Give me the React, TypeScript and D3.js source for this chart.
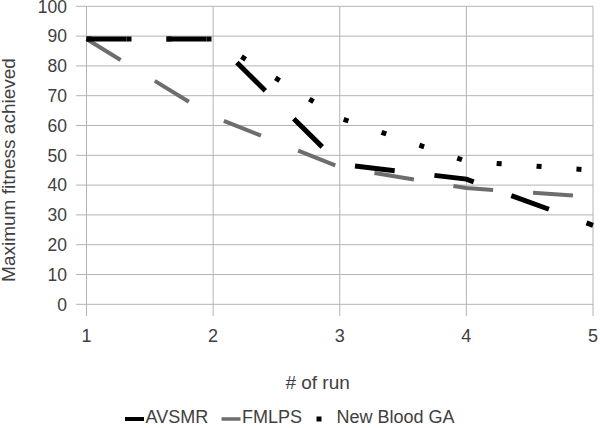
import React, { useEffect } from 'react';
import * as d3 from 'd3';

// values
const runs = [1, 2, 3, 4, 5];
const avsmr = [89, 89, 47, 42, 26.5];
const fmlps = [89, 63, 46, 39, 36];
const newBloodGA = [89, 89, 62.5, 48, 45];
const yTickValues = [0, 10, 20, 30, 40, 50, 60, 70, 80, 90, 100];

const W = 600;
const H = 428;
const FONT = '"Liberation Sans", Arial, sans-serif';
const GRID = '#b3b3b3';
const TEXT = '#404040';

type Series = { name: string, values: number[], color: string, width: number, dash: string };

const series: Series[] = [
    { name: 'FMLPS', values: fmlps, color: '#6d6d6d', width: 4, dash: '40 40' },
    { name: 'AVSMR', values: avsmr, color: '#000000', width: 5, dash: '40 40' },
    { name: 'New Blood GA', values: newBloodGA, color: '#000000', width: 5, dash: '5 35' },
];

// legend order as in the reference
const legendItems = [
    { name: 'AVSMR', color: '#000000', x: 125, kind: 'line' },
    { name: 'FMLPS', color: '#6d6d6d', x: 221.5, kind: 'line' },
    { name: 'New Blood GA', color: '#000000', x: 316.5, kind: 'dot' },
];

export default function App() {
    useEffect(() => {
        document.body.style.margin = '0';
    }, []);

    const x = d3.scaleLinear().domain([1, 5]).range([86.5, 593]);
    const y = d3.scaleLinear().domain([0, 100]).range([304.3, 6.3]);

    const line = d3.line<number>()
        .x((_, i) => x(runs[i]))
        .y(d => y(d));

    return (
        <svg width={W} height={H} style={{ display: 'block' }} fontFamily={FONT}>
            <rect width={W} height={H} fill="#fff" />

            {/* horizontal grid + y ticks */}
            {yTickValues.map(t => (
                <g key={'y' + t}>
                    <line x1={76} x2={x(5)} y1={y(t)} y2={y(t)} stroke={GRID} strokeWidth={1} />
                    <text x={67} y={y(t) + 6.3} textAnchor="end" fontSize={17.5} fill={TEXT}>{t}</text>
                </g>
            ))}

            {/* vertical grid + x ticks */}
            {runs.map(r => (
                <g key={'x' + r}>
                    <line x1={x(r)} x2={x(r)} y1={y(100)} y2={316} stroke={GRID} strokeWidth={1} />
                    <text x={x(r)} y={341.7} textAnchor="middle" fontSize={18} fill={TEXT}>{r}</text>
                </g>
            ))}

            {/* series */}
            {series.map(s => (
                <path key={s.name} d={line(s.values) || ''} fill="none" stroke={s.color}
                    strokeWidth={s.width} strokeDasharray={s.dash} strokeLinecap="butt" />
            ))}

            {/* axis titles */}
            <text x={317.6} y={389} textAnchor="middle" fontSize={19} fill={TEXT}># of run</text>
            <text transform="translate(15,170) rotate(-90)" textAnchor="middle" fontSize={19} fill={TEXT}>
                Maximum fitness achieved
            </text>

            {/* legend */}
            {legendItems.map(item => (
                <g key={'lg' + item.name}>
                    {item.kind === 'line'
                        ? <line x1={item.x} x2={item.x + 19} y1={419} y2={419} stroke={item.color} strokeWidth={item.name === 'AVSMR' ? 4 : 3.5} />
                        : <rect x={item.x} y={416.5} width={5} height={5} fill={item.color} />}
                    <text x={item.kind === 'line' ? item.x + 20.5 : item.x + 20} y={423.3} fontSize={18} fill={TEXT}>{item.name}</text>
                </g>
            ))}
        </svg>
    );
}
